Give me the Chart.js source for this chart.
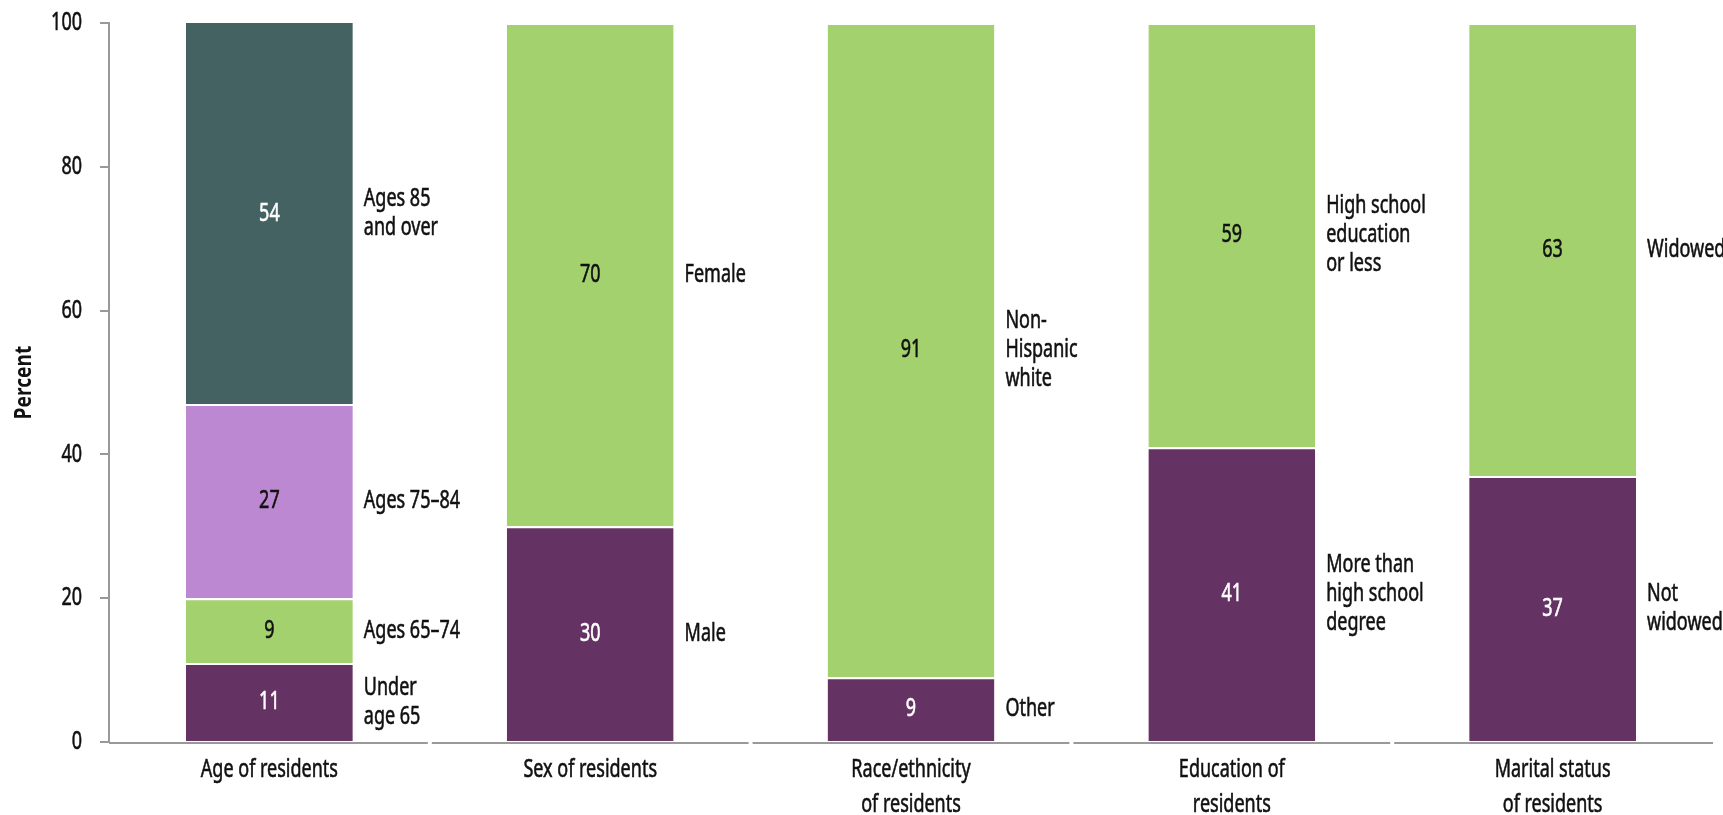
<!DOCTYPE html>
<html>
<head>
<meta charset="utf-8">
<script src="https://cdn.jsdelivr.net/npm/chart.js@4.4.0/dist/chart.umd.min.js"></script>
<style>
  html, body { margin: 0; padding: 0; background: #fff; }
  #wrap { width: 1723px; height: 815px; }
</style>
</head>
<body>
<div id="wrap"><canvas id="chart"></canvas></div>
<script>
// categories and stacked segments, bottom to top
const categories = [
  ['Age of residents'],
  ['Sex of residents'],
  ['Race/ethnicity', 'of residents'],
  ['Education of', 'residents'],
  ['Marital status', 'of residents']
];
const yTicks = [0, 20, 40, 60, 80, 100];

const level1 = [11, 30, 9, 41, 37];
const level2 = [9, 70, 91, 59, 63];
const level3 = [27, null, null, null, null];
const level4 = [54, null, null, null, null];

const names1 = [['Under', 'age 65'], ['Male'], ['Other'], ['More than', 'high school', 'degree'], ['Not', 'widowed']];
const names2 = [['Ages 65\u201374'], ['Female'], ['Non-', 'Hispanic', 'white'], ['High school', 'education', 'or less'], ['Widowed']];
const names3 = [['Ages 75\u201384'], null, null, null, null];
const names4 = [['Ages 85', 'and over'], null, null, null, null];

// the original uses a condensed face; squeeze a regular one horizontally
const FONT = "'Noto Sans', 'DejaVu Sans', sans-serif";
const SIZE = 25;
const SX = 0.72;

const PURPLE = '#653363';
const GREEN = '#a3d16e';
const LILAC = '#bd88d2';
const TEAL = '#456262';
const INK = '#111111';

function seg(label, data, color, textColor, names) {
  return {
    label: label,
    data: data,
    backgroundColor: color,
    borderColor: '#ffffff',
    borderWidth: { top: 2, bottom: 0, left: 0, right: 0 },
    borderSkipped: false,
    textColor: textColor,
    names: names
  };
}

function squeezed(ctx, text, x, y, align) {
  ctx.save();
  ctx.translate(x, y);
  ctx.scale(SX, 1);
  ctx.textAlign = align;
  ctx.strokeStyle = ctx.fillStyle;
  ctx.lineWidth = 0.6;
  ctx.fillText(text, 0, 0);
  ctx.strokeText(text, 0, 0);
  ctx.restore();
}

// value inside each segment + category name to the right
const segmentLabels = {
  id: 'segmentLabels',
  afterDatasetsDraw(chart) {
    const ctx = chart.ctx;
    const area = chart.chartArea;
    ctx.save();
    ctx.font = SIZE + 'px ' + FONT;
    ctx.textBaseline = 'middle';
    chart.data.datasets.forEach((ds, di) => {
      const meta = chart.getDatasetMeta(di);
      meta.data.forEach((bar, i) => {
        const v = ds.data[i];
        if (v == null) return;
        const top = Math.max(bar.y, area.top);
        const cy = (top + bar.base) / 2;
        ctx.fillStyle = ds.textColor;
        squeezed(ctx, String(v), bar.x, cy, 'center');
        const nm = ds.names[i];
        if (nm) {
          ctx.fillStyle = INK;
          const lh = 29;
          const y0 = cy - (nm.length - 1) * lh / 2;
          nm.forEach((line, k) => squeezed(ctx, line, bar.x + bar.width / 2 + 11, y0 + k * lh, 'left'));
        }
      });
    });
    ctx.restore();
  }
};

// axis text: y ticks, category names, y title
const axisText = {
  id: 'axisText',
  afterDraw(chart) {
    const ctx = chart.ctx;
    const x = chart.scales.x;
    const y = chart.scales.y;
    const area = chart.chartArea;
    ctx.save();
    ctx.fillStyle = INK;
    ctx.textBaseline = 'middle';
    ctx.font = SIZE + 'px ' + FONT;
    y.ticks.forEach(t => squeezed(ctx, String(t.value), area.left - 27, y.getPixelForValue(t.value), 'right'));
    categories.forEach((lines, i) => {
      const cx = x.getPixelForValue(i);
      lines.forEach((line, k) => squeezed(ctx, line, cx, area.bottom + 28 + k * 35, 'center'));
    });
    ctx.font = 'bold 24px ' + FONT;
    ctx.translate(24, (area.top + area.bottom) / 2);
    ctx.rotate(-Math.PI / 2);
    ctx.scale(0.8, 1);
    ctx.textAlign = 'center';
    ctx.fillText('Percent', 0, 0);
    ctx.restore();
  }
};

// x axis line broken at category boundaries
const brokenAxis = {
  id: 'brokenAxis',
  afterDraw(chart) {
    const ctx = chart.ctx;
    const x = chart.scales.x;
    const y = chart.chartArea.bottom + 1;
    const n = categories.length;
    const step = x.getPixelForValue(1) - x.getPixelForValue(0);
    ctx.save();
    ctx.strokeStyle = '#999';
    ctx.lineWidth = 2;
    for (let i = 0; i < n; i++) {
      const c = x.getPixelForValue(i);
      const a = c - step / 2 + (i > 0 ? 2 : 0);
      const b = c + step / 2 - (i < n - 1 ? 2 : 0);
      ctx.beginPath();
      ctx.moveTo(a, y);
      ctx.lineTo(b, y);
      ctx.stroke();
    }
    ctx.restore();
  }
};

new Chart(document.getElementById('chart'), {
  type: 'bar',
  data: {
    labels: categories,
    datasets: [
      seg('Level 1', level1, PURPLE, '#ffffff', names1),
      seg('Level 2', level2, GREEN, INK, names2),
      seg('Level 3', level3, LILAC, INK, names3),
      seg('Level 4', level4, TEAL, '#ffffff', names4)
    ]
  },
  options: {
    responsive: true,
    maintainAspectRatio: false,
    animation: false,
    layout: { padding: { top: 23, right: 10, left: 0, bottom: 0 } },
    datasets: { bar: { categoryPercentage: 1, barPercentage: 0.52 } },
    plugins: {
      legend: { display: false },
      tooltip: { enabled: false }
    },
    scales: {
      x: {
        stacked: true,
        border: { display: false },
        grid: { display: false },
        ticks: { display: false },
        afterFit: s => { s.height = 73; }
      },
      y: {
        stacked: true,
        min: 0,
        max: 100,
        afterBuildTicks: s => { s.ticks = yTicks.map(v => ({ value: v })); },
        border: { color: '#999', width: 2 },
        grid: { drawOnChartArea: false, tickLength: 9, color: '#999', lineWidth: 2 },
        ticks: { display: false },
        afterFit: s => { s.width = 109; }
      }
    }
  },
  plugins: [segmentLabels, brokenAxis, axisText]
});
</script>
</body>
</html>
